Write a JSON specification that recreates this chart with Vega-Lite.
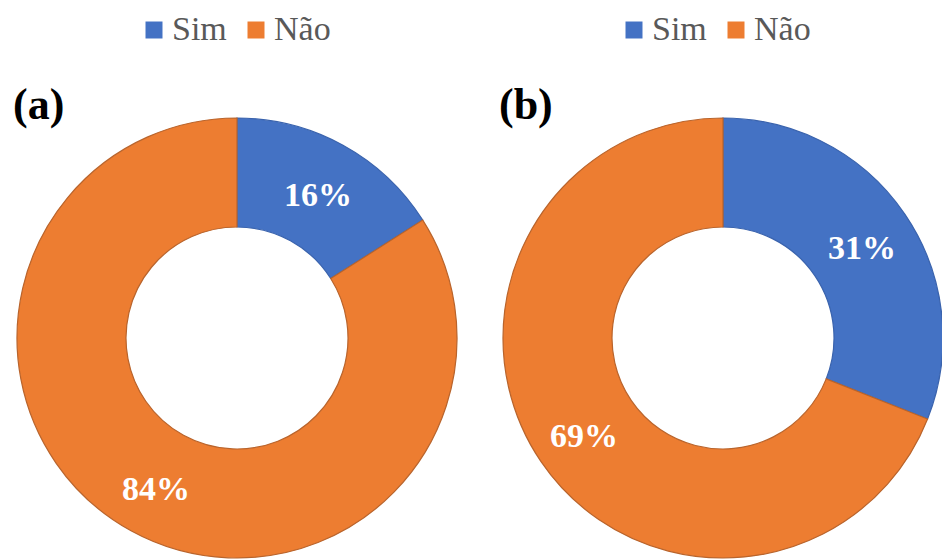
{
  "$schema": "https://vega.github.io/schema/vega-lite/v6.json",
  "data": {
    "values": [
      {"grafico": "a", "resposta": "Sim", "valor": 0.16},
      {"grafico": "a", "resposta": "Não", "valor": 0.84},
      {"grafico": "b", "resposta": "Sim", "valor": 0.31},
      {"grafico": "b", "resposta": "Não", "valor": 0.69}
    ]
  },
  "padding": {"left": 13, "top": 13, "right": 0, "bottom": 0},
  "spacing": 39,
  "hconcat": [
    {
      "width": 440,
      "height": 440,
      "title": {"text": "(a)", "anchor": "start", "frame": "group", "baseline": "alphabetic", "offset": -4, "dx": -4, "dy": 146},
      "transform": [{"filter": "datum.grafico == 'a'"}],
      "encoding": {
        "theta": {"field": "valor", "type": "quantitative", "stack": true},
        "order": {"field": "resposta", "sort": "descending"},
        "color": {
          "field": "resposta",
          "type": "nominal",
          "scale": {"domain": ["Sim", "Não"], "range": ["#4472C4", "#ED7D31"]},
          "legend": {"orient": "none", "legendX": 120, "legendY": -105}
        }
      },
      "layer": [
        {
          "mark": {"type": "arc", "radius": 220, "radius2": 111, "strokeWidth": 1.2},
          "encoding": {
            "stroke": {
              "field": "resposta",
              "type": "nominal",
              "scale": {"domain": ["Sim", "Não"], "range": ["#3a63ad", "#b9642c"]},
              "legend": null
            }
          }
        },
        {
          "mark": {"type": "text", "radius": 168, "dy": 5, "font": "Liberation Serif", "fontSize": 34, "fontWeight": "bold"},
          "encoding": {
            "text": {"field": "valor", "type": "quantitative", "format": ".0%"},
            "color": {"value": "#ffffff"}
          }
        }
      ]
    },
    {
      "width": 440,
      "height": 440,
      "title": {"text": "(b)", "anchor": "start", "frame": "group", "baseline": "alphabetic", "offset": -4, "dx": -4, "dy": 146},
      "transform": [{"filter": "datum.grafico == 'b'"}],
      "encoding": {
        "theta": {"field": "valor", "type": "quantitative", "stack": true},
        "order": {"field": "resposta", "sort": "descending"},
        "color": {
          "field": "resposta",
          "type": "nominal",
          "scale": {"domain": ["Sim", "Não"], "range": ["#4472C4", "#ED7D31"]},
          "legend": {"orient": "none", "legendX": 114, "legendY": -105}
        }
      },
      "layer": [
        {
          "mark": {"type": "arc", "radius": 220, "radius2": 111, "strokeWidth": 1.2},
          "encoding": {
            "stroke": {
              "field": "resposta",
              "type": "nominal",
              "scale": {"domain": ["Sim", "Não"], "range": ["#3a63ad", "#b9642c"]},
              "legend": null
            }
          }
        },
        {
          "mark": {"type": "text", "radius": 168, "dy": 5, "font": "Liberation Serif", "fontSize": 34, "fontWeight": "bold"},
          "encoding": {
            "text": {"field": "valor", "type": "quantitative", "format": ".0%"},
            "color": {"value": "#ffffff"}
          }
        }
      ]
    }
  ],
  "resolve": {"scale": {"color": "independent", "stroke": "independent"}, "legend": {"color": "independent"}},
  "config": {
    "font": "Liberation Serif",
    "view": {"stroke": null},
    "text": {"font": "Liberation Serif"},
    "title": {"font": "Liberation Serif", "fontSize": 44, "fontWeight": "bold", "color": "#000000"},
    "legend": {
      "title": null,
      "direction": "horizontal",
      "symbolType": "square",
      "symbolSize": 289,
      "symbolStrokeWidth": 0,
      "symbolOpacity": 1,
      "labelFont": "Liberation Serif",
      "labelFontSize": 34,
      "labelColor": "#595959",
      "labelOffset": 1,
      "columnPadding": 12
    }
  }
}
